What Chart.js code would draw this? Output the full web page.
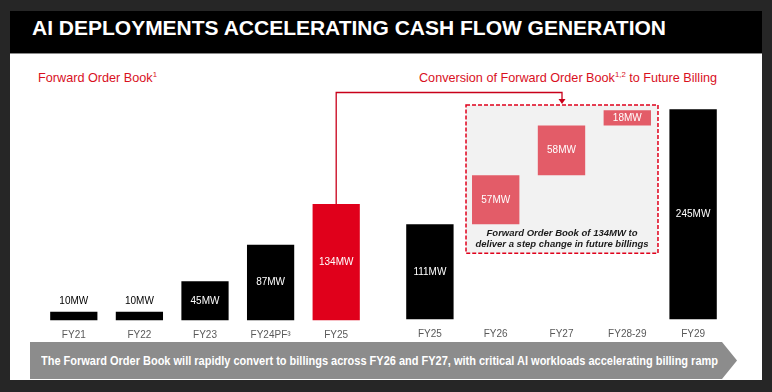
<!DOCTYPE html>
<html>
<head>
<meta charset="utf-8">
<script src="https://cdn.jsdelivr.net/npm/chart.js@4.4.1/dist/chart.umd.min.js"></script>
<style>
  html, body { margin: 0; padding: 0; background: #262626; width: 772px; height: 392px; overflow: hidden; }
  body { position: relative; font-family: 'Liberation Sans', Arial, sans-serif; }
  #slide { position: absolute; left: 10px; top: 11px; width: 752px; height: 369px; background: #fff; }
  #titlebar { position: absolute; left: 10px; top: 11px; width: 752px; height: 42px; background: #000; border-bottom: 1px solid #8a8a8a; }
  .txt { position: absolute; white-space: nowrap; transform-origin: 0 0; }
  #title { left: 32px; top: 16px; color: #fff; font-weight: bold; font-size: 21px; }
  .red { color: #d9101e; font-size: 13px; top: 70px; }
  .red sup { font-size: 8px; vertical-align: 5px; line-height: 0; }
  #banner { position: absolute; left: 30px; top: 342px; width: 707px; height: 37px; background: #8c8c8c;
            clip-path: polygon(0 0, 692px 0, 707px 50%, 692px 100%, 0 100%); }
  #bannerText { left: 41px; top: 354px; color: #fff; font-weight: bold; font-size: 12px; }
  canvas { position: absolute; left: 0; top: 0; }
</style>
</head>
<body>
<div id="slide"></div>
<div id="titlebar"></div>
<div class="txt" id="title" data-w="634">AI DEPLOYMENTS ACCELERATING CASH FLOW GENERATION</div>
<div class="txt red" style="left:38px" data-w="119">Forward Order Book<sup>1</sup></div>
<div class="txt red" style="left:419px" data-w="298">Conversion of Forward Order Book<sup>1,2</sup> to Future Billing</div>
<div id="banner"></div>
<div class="txt" id="bannerText" data-w="677">The Forward Order Book will rapidly convert to billings across FY26 and FY27, with critical AI workloads accelerating billing ramp</div>
<canvas id="leftChart" width="772" height="392"></canvas>
<canvas id="rightChart" width="772" height="392"></canvas>

<script>
// ---- data ----
const leftLabels = ['FY21', 'FY22', 'FY23', 'FY24PF³', 'FY25'];
const leftValues = [10, 10, 45, 87, 134];

const rightLabels = ['FY25', 'FY26', 'FY27', 'FY28-29', 'FY29'];
const rightValues = [111, 57, 58, 18, 245];

const boxNote = ['Forward Order Book of 134MW to', 'deliver a step change in future billings'];

const RED = '#e0001b';
const PINK = '#e35c68';
const FONT = "'Liberation Sans', Arial, sans-serif";

// squeeze text blocks to the width they take on the slide
document.querySelectorAll('[data-w]').forEach((el) => {
  const w = el.getBoundingClientRect().width;
  el.style.transform = `scaleX(${+el.dataset.w / w})`;
});

// waterfall: first and last bars sit on zero, the middle ones float on the running total
const rightRanges = [];
let running = 0;
rightValues.forEach((v, i) => {
  if (i === 0 || i === rightValues.length - 1) {
    rightRanges.push([0, v]);
    running = v;
  } else {
    rightRanges.push([running, running + v]);
    running += v;
  }
});

// MW labels: inside the bar when it is tall enough, otherwise on top
const valueLabels = {
  id: 'valueLabels',
  afterDatasetsDraw(chart) {
    const { ctx } = chart;
    const meta = chart.getDatasetMeta(0);
    const values = chart.data.datasets[0].mwValues;
    ctx.save();
    ctx.textAlign = 'center';
    ctx.textBaseline = 'middle';
    ctx.font = `10px ${FONT}`;
    meta.data.forEach((bar, i) => {
      const h = Math.abs(bar.base - bar.y);
      const text = values[i] + 'MW';
      if (h < 12) {
        ctx.fillStyle = '#000';
        ctx.fillText(text, bar.x, bar.y - 11);
      } else {
        ctx.fillStyle = '#fff';
        ctx.fillText(text, bar.x, (bar.y + bar.base) / 2);
      }
    });
    ctx.restore();
  },
};

function axes(max) {
  return {
    x: {
      grid: { display: false, drawTicks: false },
      border: { display: false },
      ticks: { color: '#595959', padding: 9, font: { family: FONT, size: 10 } },
    },
    y: { display: false, min: 0, max },
  };
}

Chart.defaults.animation = false;
Chart.defaults.responsive = false;

const leftChart = new Chart(document.getElementById('leftChart'), {
  type: 'bar',
  data: {
    labels: leftLabels,
    datasets: [{
      data: leftValues,
      mwValues: leftValues,
      backgroundColor: leftValues.map((v, i) => (i === leftValues.length - 1 ? RED : '#000')),
      barPercentage: 0.72,
      categoryPercentage: 1,
    }],
  },
  options: {
    layout: { padding: { left: 41, right: 403, top: 190, bottom: 41.5 } },
    plugins: { legend: { display: false }, tooltip: { enabled: false } },
    scales: axes(150),
  },
  plugins: [valueLabels],
});

// dashed box behind the waterfall + connector from the FY25 order book bar
const boxAndArrow = {
  id: 'boxAndArrow',
  beforeDatasetsDraw(chart) {
    const { ctx, scales } = chart;
    const bars = chart.getDatasetMeta(0).data;
    const first = bars[1];
    const last = bars[3];
    const left = first.x - first.width / 2 - 6;
    const right = last.x + last.width / 2 + 7;
    const top = scales.y.getPixelForValue(scales.y.max);
    const bottom = first.base + 29;

    ctx.save();
    ctx.fillStyle = '#f2f2f2';
    ctx.fillRect(left, top, right - left, bottom - top);
    ctx.strokeStyle = RED;
    ctx.lineWidth = 1.5;
    ctx.setLineDash([4, 2]);
    ctx.strokeRect(left, top, right - left, bottom - top);
    ctx.setLineDash([]);

    ctx.fillStyle = '#1a1a1a';
    ctx.font = `italic bold 9.5px ${FONT}`;
    ctx.textAlign = 'center';
    ctx.textBaseline = 'middle';
    const cx = (left + right) / 2;
    ctx.fillText(boxNote[0], cx, first.base + 9.5);
    ctx.fillText(boxNote[1], cx, first.base + 20);

    // connector
    const src = leftChart.getDatasetMeta(0).data[leftValues.length - 1];
    const elbowY = top - 12.5;
    ctx.strokeStyle = '#c8001a';
    ctx.lineWidth = 1.3;
    ctx.beginPath();
    ctx.moveTo(src.x, src.y);
    ctx.lineTo(src.x, elbowY);
    ctx.lineTo(cx, elbowY);
    ctx.lineTo(cx, top - 6);
    ctx.stroke();
    ctx.fillStyle = '#c8001a';
    ctx.beginPath();
    ctx.moveTo(cx - 3.5, top - 6);
    ctx.lineTo(cx + 3.5, top - 6);
    ctx.lineTo(cx, top - 1);
    ctx.closePath();
    ctx.fill();
    ctx.restore();
  },
};

new Chart(document.getElementById('rightChart'), {
  type: 'bar',
  data: {
    labels: rightLabels,
    datasets: [{
      data: rightRanges,
      mwValues: rightValues,
      backgroundColor: rightValues.map((v, i) => (i === 0 || i === rightValues.length - 1 ? '#000' : PINK)),
      barPercentage: 0.72,
      categoryPercentage: 1,
    }],
  },
  options: {
    layout: { padding: { left: 397, right: 46, top: 105, bottom: 42.5 } },
    plugins: { legend: { display: false }, tooltip: { enabled: false } },
    scales: axes(250),
  },
  plugins: [boxAndArrow, valueLabels],
});
</script>
</body>
</html>
